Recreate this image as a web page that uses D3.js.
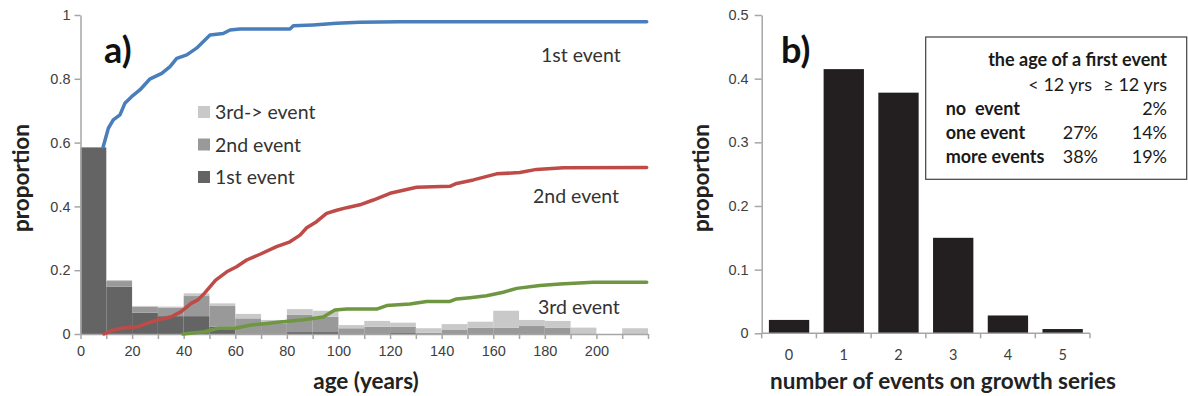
<!DOCTYPE html>
<html>
<head>
<meta charset="utf-8">
<script src="https://cdnjs.cloudflare.com/ajax/libs/d3/7.8.5/d3.min.js"></script>
<style>
  html, body { margin: 0; padding: 0; background: #fff; }
  svg { display: block; font-family: Lato, "Open Sans", sans-serif; }
  .axis path, .axis line { stroke: #a6a6a6; stroke-width: 1.5; }
  .axis text { fill: #404040; font-size: 14.5px; }
</style>
</head>
<body>
<svg id="chart" width="1188" height="396"></svg>
<script>
// ---- panel a: age histogram (10-year bins), stacked by event order ----
const binStarts = [0,10,20,30,40,50,60,70,80,90,100,110,120,130,140,150,160,170,180,190,200,210];
const firstEventShare  = [0.585,0.148,0.067,0.056,0.056,0.023,0,0,0.006,0.006,0,0,0.003,0,0,0,0,0,0,0,0,0];
const secondEventShare = [0,0.018,0.018,0.027,0.063,0.065,0.049,0.0335,0.054,0.048,0.018,0.023,0.02,0.004,0.0125,0.02,0.02,0.025,0.02,0,0,0];
const thirdPlusShare   = [0,0.003,0.003,0.003,0.0085,0.008,0.014,0.0105,0.018,0.019,0.010,0.018,0.0125,0.014,0.0185,0.0186,0.053,0.019,0.021,0.02,0,0.018];

// cumulative proportion of series that reached each event, by age [age, proportion]
const cumFirst = [[8.8,0.587],[10.8,0.645],[12.7,0.671],[15.3,0.687],[17.2,0.723],[19.8,0.744],[23,0.765],[27,0.80],[31.5,0.817],[34.7,0.838],[37.3,0.864],[41.2,0.875],[45,0.896],[50.2,0.937],[55.3,0.942],[58,0.953],[61.8,0.956],[81.2,0.956],[82.5,0.966],[90.2,0.969],[99.3,0.974],[108.3,0.977],[123.8,0.979],[219.5,0.979]];
const cumSecond = [[9.1,0],[11.9,0.010],[15.8,0.018],[22.3,0.023],[26.2,0.035],[30,0.044],[35.2,0.054],[39,0.070],[42.9,0.096],[45.5,0.107],[48.1,0.128],[52.4,0.169],[56.7,0.195],[60.5,0.211],[64.4,0.232],[69.6,0.25],[76,0.274],[81.2,0.289],[85.1,0.31],[87.7,0.333],[91.5,0.352],[95.4,0.378],[99.3,0.388],[103.2,0.396],[108.3,0.405],[113.5,0.42],[120,0.441],[130.3,0.46],[143.2,0.463],[145.8,0.472],[152.3,0.483],[161.3,0.502],[170.3,0.506],[176.8,0.516],[187.2,0.521],[219.5,0.522]];
const cumThird = [[39.7,0],[48.1,0.007],[53.3,0.018],[59.8,0.018],[66.2,0.028],[76.6,0.037],[86.4,0.045],[94.1,0.053],[98.6,0.075],[103.2,0.078],[114.8,0.078],[118.7,0.089],[127.7,0.094],[134.2,0.102],[143.2,0.102],[145.8,0.11],[151,0.114],[157.4,0.12],[163.9,0.131],[169.1,0.143],[178.1,0.152],[185.9,0.157],[198.8,0.162],[219.5,0.162]];

const ageTicks = [0,10,20,30,40,50,60,70,80,90,100,110,120,130,140,150,160,170,180,190,200,210,220];
const ageTickLabels = ["0","","20","","40","","60","","80","","100","","120","","140","","160","","180","","200","",""];
const propTicksA = [0,0.2,0.4,0.6,0.8,1];
const propTickLabelsA = ["0","0.2","0.4","0.6","0.8","1"];

// ---- panel b: number of events per growth series ----
const eventCounts = ["0","1","2","3","4","5"];
const eventCountShare = [0.021,0.415,0.378,0.150,0.028,0.0067];
const propTicksB = [0,0.1,0.2,0.3,0.4,0.5];
const propTickLabelsB = ["0","0.1","0.2","0.3","0.4","0.5"];

// inset table
const tableTitle = "the age of a first event";
const tableColumns = ["< 12 yrs", "\u2265 12 yrs"];
const tableRows = ["no  event", "one event", "more events"];
const tableUnder12 = ["", "27%", "38%"];
const tableOver12 = ["2%", "14%", "19%"];

const svg = d3.select("#chart");
svg.append("rect").attr("width", 1188).attr("height", 396).attr("fill", "#fff");

const TEXT = "#333";
const DARK = "#222";

// ================= panel a =================
const xA = d3.scaleLinear().domain([0, 220]).range([80.5, 648]);
const yA = d3.scaleLinear().domain([0, 1]).range([334, 15]);
const gA = svg.append("g");

const stackRows = binStarts.map((b, i) => ({
  start: b, first: firstEventShare[i], second: secondEventShare[i], third: thirdPlusShare[i]
}));
const stack = d3.stack().keys(["first", "second", "third"])(stackRows);
const fills = { first: "#646464", second: "#999999", third: "#c9c9c9" };

gA.selectAll("g.layer").data(stack).join("g")
  .attr("class", "layer")
  .attr("fill", d => fills[d.key])
  .selectAll("rect").data(d => d).join("rect")
  .attr("x", d => xA(d.data.start))
  .attr("width", d => xA(d.data.start + 10) - xA(d.data.start))
  .attr("y", d => yA(d[1]))
  .attr("height", d => Math.max(0, yA(d[0]) - yA(d[1])));

// axes
const axA_y = gA.append("g").attr("class", "axis").attr("transform", `translate(${xA(0)},0)`)
  .call(d3.axisLeft(yA).tickValues(propTicksA).tickSize(6).tickSizeOuter(0)
    .tickFormat((d, i) => propTickLabelsA[i]));
axA_y.selectAll("text").attr("x", -10);
const axA_x = gA.append("g").attr("class", "axis").attr("transform", `translate(0,${yA(0)})`)
  .call(d3.axisBottom(xA).tickValues(ageTicks).tickSize(5).tickSizeOuter(0)
    .tickFormat((d, i) => ageTickLabels[i]));
axA_x.selectAll("text").attr("y", 12);

// cumulative curves
const lineA = d3.line().x(d => xA(d[0])).y(d => yA(d[1]));
[[cumFirst, "#4a7ebb"], [cumSecond, "#be4b48"], [cumThird, "#6f9640"]].forEach(([data, col]) => {
  gA.append("path").datum(data).attr("d", lineA)
    .attr("fill", "none").attr("stroke", col).attr("stroke-width", 3.5)
    .attr("stroke-linejoin", "round").attr("stroke-linecap", "round");
});

// curve labels
const curveLabels = [["1st event", 541, 62], ["2nd event", 533, 203], ["3rd event", 538, 314]];
curveLabels.forEach(([t, x, y]) => {
  gA.append("text").attr("x", x).attr("y", y).text(t)
    .attr("fill", TEXT).attr("font-size", 19.5);
});

// legend
const legendItems = [["3rd-> event", fills.third], ["2nd event", fills.second], ["1st event", fills.first]];
legendItems.forEach(([t, c], i) => {
  const cy = 112 + i * 32.5;
  gA.append("rect").attr("x", 198).attr("y", cy - 6).attr("width", 12).attr("height", 12).attr("fill", c);
  gA.append("text").attr("x", 215).attr("y", cy + 7).text(t).attr("fill", TEXT).attr("font-size", 19.5);
});

gA.append("text").attr("x", 104).attr("y", 63).text("a)")
  .attr("font-size", 36).attr("font-weight", "bold").attr("fill", "#111");
gA.append("text").attr("transform", "translate(29,178) rotate(-90)").attr("text-anchor", "middle")
  .text("proportion").attr("font-size", 22.5).attr("font-weight", "bold").attr("fill", DARK);
gA.append("text").attr("x", 366).attr("y", 389).attr("text-anchor", "middle")
  .text("age (years)").attr("font-size", 22.5).attr("font-weight", "bold").attr("fill", DARK);

// ================= panel b =================
const xB = d3.scaleBand().domain(eventCounts).range([761.7, 1090]).paddingInner(0.263).paddingOuter(0.1315);
const yB = d3.scaleLinear().domain([0, 0.5]).range([333.3, 15]);
const gB = svg.append("g");

gB.selectAll("rect.bar").data(eventCounts).join("rect")
  .attr("class", "bar")
  .attr("x", d => xB(d))
  .attr("width", xB.bandwidth())
  .attr("y", (d, i) => yB(eventCountShare[i]))
  .attr("height", (d, i) => yB(0) - yB(eventCountShare[i]))
  .attr("fill", "#231f20");

const axB_y = gB.append("g").attr("class", "axis").attr("transform", `translate(761.7,0)`)
  .call(d3.axisLeft(yB).tickValues(propTicksB).tickSize(7).tickSizeOuter(0)
    .tickFormat((d, i) => propTickLabelsB[i]));
axB_y.selectAll("text").attr("x", -13);

// category axis: ticks on slot boundaries, labels at slot centers
const axB_x = gB.append("g").attr("class", "axis").attr("transform", `translate(0,${yB(0)})`);
axB_x.append("line").attr("x1", 761.7).attr("x2", 1090).attr("y1", 0).attr("y2", 0);
const step = xB.step();
d3.range(eventCounts.length + 1).forEach(i => {
  const x = 761.7 + i * step;
  axB_x.append("line").attr("x1", x).attr("x2", x).attr("y1", 0).attr("y2", 5);
});
axB_x.selectAll("text.lbl").data(eventCounts).join("text")
  .attr("class", "lbl")
  .attr("x", d => xB(d) + xB.bandwidth() / 2).attr("y", 27)
  .attr("text-anchor", "middle").text(d => d);

gB.append("text").attr("x", 781).attr("y", 63).text("b)")
  .attr("font-size", 36).attr("font-weight", "bold").attr("fill", "#111");
gB.append("text").attr("transform", "translate(709,178) rotate(-90)").attr("text-anchor", "middle")
  .text("proportion").attr("font-size", 22.5).attr("font-weight", "bold").attr("fill", DARK);
gB.append("text").attr("x", 943).attr("y", 389).attr("text-anchor", "middle")
  .text("number of events on growth series").attr("font-size", 22.5).attr("font-weight", "bold").attr("fill", DARK);

// inset table
const FS = 18;
const tb = gB.append("g");
tb.append("rect").attr("x", 925.7).attr("y", 37).attr("width", 261).attr("height", 142.3)
  .attr("fill", "#fff").attr("stroke", "#404040").attr("stroke-width", 1.2);
tb.append("text").attr("x", 1167).attr("y", 66).attr("text-anchor", "end")
  .text(tableTitle).attr("font-size", FS).attr("font-weight", "bold").attr("fill", "#1a1a1a");
tb.append("text").attr("x", 1092).attr("y", 91).attr("text-anchor", "end")
  .text(tableColumns[0]).attr("font-size", FS).attr("fill", "#1a1a1a");
tb.append("text").attr("x", 1167).attr("y", 91).attr("text-anchor", "end")
  .text(tableColumns[1]).attr("font-size", FS).attr("fill", "#1a1a1a");
tableRows.forEach((r, i) => {
  const y = 115 + i * 24;
  tb.append("text").attr("x", 945.7).attr("y", y).text(r)
    .attr("font-size", FS).attr("font-weight", "bold").attr("fill", "#1a1a1a")
    .style("white-space", "pre");
  tb.append("text").attr("x", 1098).attr("y", y).attr("text-anchor", "end").text(tableUnder12[i])
    .attr("font-size", FS).attr("fill", "#1a1a1a");
  tb.append("text").attr("x", 1167).attr("y", y).attr("text-anchor", "end").text(tableOver12[i])
    .attr("font-size", FS).attr("fill", "#1a1a1a");
});
</script>
</body>
</html>
